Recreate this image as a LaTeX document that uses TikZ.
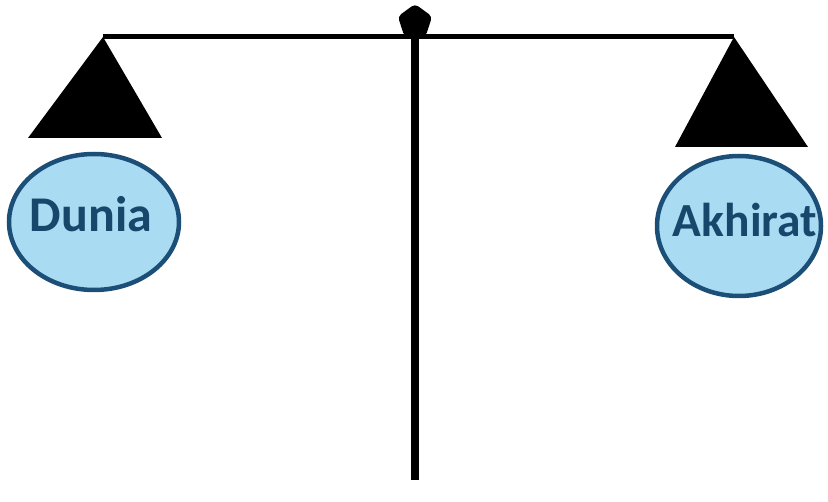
\documentclass[tikz,border=0pt]{standalone}
\usepackage{fontspec}
\setmainfont{Carlito}
\usetikzlibrary{shapes.geometric}
\definecolor{rim}{HTML}{1C4F78}
\definecolor{panfill}{HTML}{A9DBF3}
\definecolor{labelc}{HTML}{17476B}
\tikzset{
  pan/.style={ellipse, draw=rim, line width=4.5pt, fill=panfill, inner sep=0pt},
  panlabel/.style={font=\bfseries\fontsize{#1}{54}\selectfont, text=labelc},
  panlabel/.default=50,
  bar/.style={line width=5pt, black},
  plate/.style={fill=black}
}
\begin{document}
\begin{tikzpicture}[x=1pt,y=-1pt]
\useasboundingbox (0,0) rectangle (828,502);
% pivot knob
\node (knob) [regular polygon, regular polygon sides=5, fill=black, minimum size=36pt, inner sep=0pt, rounded corners=4pt] at (415,22) {};
% beam and pole
\coordinate (bl) at (103,37);
\coordinate (br) at (734,37);
\coordinate (top) at (415,37);
\coordinate (bot) at (415,480);
\draw[bar] (bl) -- (br);
\draw[line width=8.5pt] (top) -- (bot);
% triangles
\fill[plate] (bl) -- (162,138) -- (28,138) -- cycle;
\fill[plate] (br) -- (808,147) -- (675,147) -- cycle;
% pans
\node (dunia) [pan, minimum width=170pt, minimum height=136pt] at (94,222) {};
\node [panlabel] at (91,214) {Dunia};
\node (akhirat) [pan, minimum width=164pt, minimum height=140pt] at (739,226) {};
\node [panlabel=47.5] at (745,220) {Akhirat};
\end{tikzpicture}
\end{document}
